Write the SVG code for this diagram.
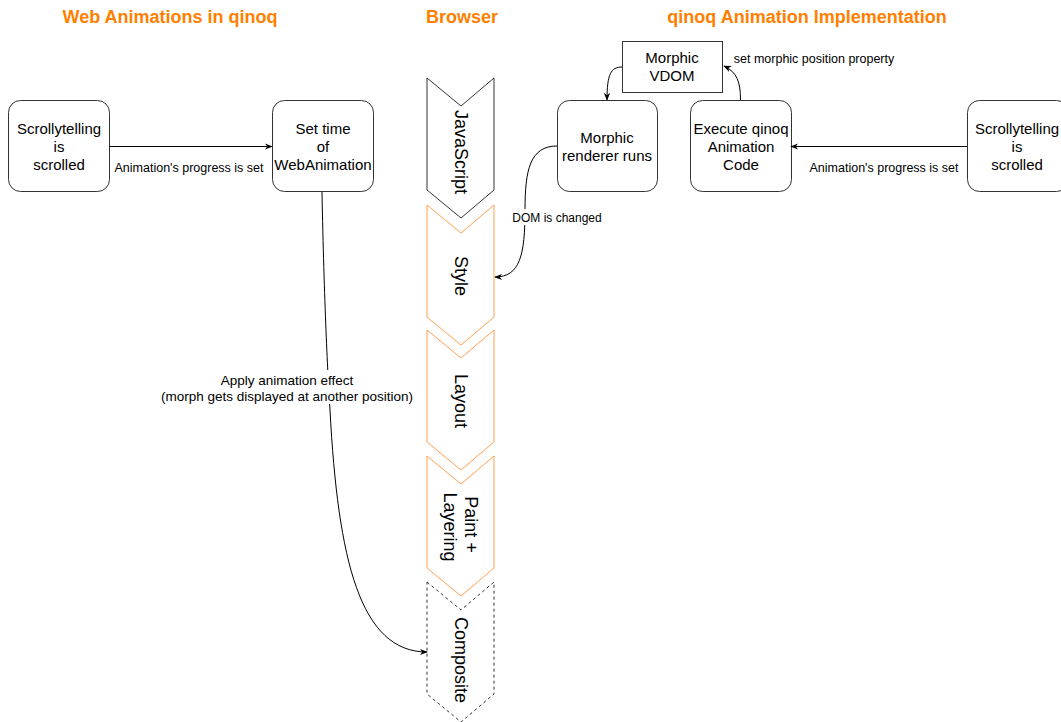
<svg xmlns="http://www.w3.org/2000/svg" width="1061" height="722" viewBox="0 0 1061 722">
  <style>
    .title { font-family: "Liberation Sans", Arial, sans-serif; font-size: 18px; font-weight: bold; fill: #FF7F00; text-anchor: middle; }
    .node { fill: #ffffff; stroke: #333333; stroke-width: 1; }
    .lbl { font-family: "Liberation Sans", Arial, sans-serif; font-size: 15px; fill: #000000; text-anchor: middle; }
    .slbl { font-family: "Liberation Sans", Arial, sans-serif; font-size: 18px; fill: #000000; text-anchor: middle; }
    .elbl { font-family: "Liberation Sans", Arial, sans-serif; font-size: 12.5px; fill: #000000; text-anchor: middle; }
    .step { fill: #ffffff; stroke-width: 1; }
    .step-js { stroke: #333333; }
    .step-o { stroke: #FFA04D; }
    .step-d { stroke: #333333; stroke-dasharray: 3 3; }
    .edge { fill: none; stroke: #000000; stroke-width: 1; }
  </style>
  <defs>
    <marker id="arrow" viewBox="0 0 10 10" refX="9" refY="5" markerWidth="8" markerHeight="8" markerUnits="userSpaceOnUse" orient="auto">
      <path d="M0,1 L10,5 L0,9 L3,5 Z" fill="#000000"/>
    </marker>
    <!-- browser pipeline step: 67 wide, 140 tall with a 28px notch -->
    <path id="chev" d="M0,0 L34,28 L67,0 L67,112 L34,140 L0,112 Z"/>
  </defs>

  <rect width="1061" height="722" fill="#ffffff"/>

  <!-- headings -->
  <text class="title" x="170" y="23">Web Animations in qinoq</text>
  <text class="title" x="462" y="23">Browser</text>
  <text class="title" x="807" y="23">qinoq Animation Implementation</text>

  <!-- browser pipeline -->
  <g id="step-javascript">
    <use href="#chev" class="step step-js" x="427" y="78"/>
    <text class="slbl" transform="translate(461,152) rotate(90)" dy="6">JavaScript</text>
  </g>
  <g id="step-style">
    <use href="#chev" class="step step-o" x="427" y="205"/>
    <text class="slbl" transform="translate(461,276) rotate(90)" dy="6">Style</text>
  </g>
  <g id="step-layout">
    <use href="#chev" class="step step-o" x="427" y="330"/>
    <text class="slbl" transform="translate(461,401) rotate(90)" dy="6">Layout</text>
  </g>
  <g id="step-paint">
    <use href="#chev" class="step step-o" x="427" y="456"/>
    <text class="slbl" transform="translate(461,527) rotate(90)">
      <tspan x="0" dy="-4">Paint +</tspan>
      <tspan x="0" dy="21">Layering</tspan>
    </text>
  </g>
  <g id="step-composite">
    <use href="#chev" class="step step-d" x="427" y="582"/>
    <text class="slbl" transform="translate(461,660) rotate(90)" dy="6">Composite</text>
  </g>

  <!-- left side: web animations -->
  <g id="scroll-left">
    <rect class="node" x="8.5" y="100.5" width="101" height="91" rx="12"/>
    <text class="lbl" x="59" y="134">Scrollytelling</text>
    <text class="lbl" x="59" y="152">is</text>
    <text class="lbl" x="59" y="170">scrolled</text>
  </g>
  <g id="set-time">
    <rect class="node" x="272.5" y="100.5" width="101" height="91" rx="12"/>
    <text class="lbl" x="323" y="134">Set time</text>
    <text class="lbl" x="323" y="152">of</text>
    <text class="lbl" x="323" y="170">WebAnimation</text>
  </g>

  <!-- right side: qinoq implementation -->
  <g id="morphic-vdom">
    <rect class="node" x="622.5" y="41.5" width="100" height="51"/>
    <text class="lbl" x="672" y="63">Morphic</text>
    <text class="lbl" x="672" y="81">VDOM</text>
  </g>
  <g id="renderer">
    <rect class="node" x="557.5" y="100.5" width="100" height="91" rx="12"/>
    <text class="lbl" x="607" y="143">Morphic</text>
    <text class="lbl" x="607" y="161">renderer runs</text>
  </g>
  <g id="execute">
    <rect class="node" x="690.5" y="100.5" width="101" height="91" rx="12"/>
    <text class="lbl" x="741" y="134">Execute qinoq</text>
    <text class="lbl" x="741" y="152">Animation</text>
    <text class="lbl" x="741" y="170">Code</text>
  </g>
  <g id="scroll-right">
    <rect class="node" x="967.5" y="100.5" width="101" height="91" rx="12"/>
    <text class="lbl" x="1017" y="134">Scrollytelling</text>
    <text class="lbl" x="1017" y="152">is</text>
    <text class="lbl" x="1017" y="170">scrolled</text>
  </g>

  <!-- connectors -->
  <g id="edges">
    <path class="edge" d="M109,146.5 L272,146.5" marker-end="url(#arrow)"/>
    <text class="elbl" x="189" y="172">Animation's progress is set</text>

    <path class="edge" d="M967,146.5 L791,146.5" marker-end="url(#arrow)"/>
    <text class="elbl" x="884" y="172">Animation's progress is set</text>

    <path class="edge" d="M740.5,100 C740.5,82 737,72 724,66" marker-end="url(#arrow)"/>
    <text class="elbl" x="814" y="63">set morphic position property</text>

    <path class="edge" d="M622,67 C611,67 607,74 607,100" marker-end="url(#arrow)"/>

    <path class="edge" d="M557,146 C530,146 525,170 525,210 C525,255 520,277 495,277" marker-end="url(#arrow)"/>
    <rect x="510" y="209" width="95" height="16" fill="#ffffff"/>
    <text class="elbl" font-size="12" style="font-size:12px" x="557" y="222">DOM is changed</text>

    <path class="edge" d="M322,192 C324,300 328,380 330,410 C338,560 360,652 427,652" marker-end="url(#arrow)"/>
    <rect x="158" y="370" width="258" height="34" fill="#ffffff"/>
    <text class="elbl" style="font-size:13.5px" x="287" y="385">Apply animation effect</text>
    <text class="elbl" style="font-size:13.5px" x="287" y="401">(morph gets displayed at another position)</text>
  </g>
</svg>
